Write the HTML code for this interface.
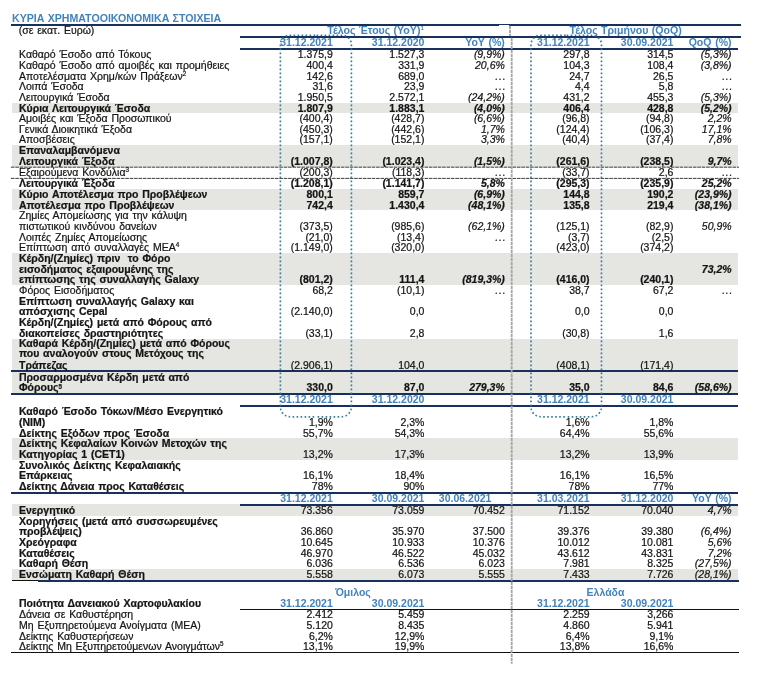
<!DOCTYPE html>
<html lang="el"><head><meta charset="utf-8"><title>Κύρια Χρηματοοικονομικά Στοιχεία</title>
<style>
html,body{margin:0;padding:0;background:#fff}
body{width:776px;height:692px;position:relative;overflow:hidden;font-family:"Liberation Sans",sans-serif;font-size:10.5px;color:#141414}
#w{position:absolute;left:0;top:0;width:776px;height:692px;will-change:transform}
.t{position:absolute;white-space:nowrap;line-height:12px;height:12px;-webkit-text-stroke:0.22px}
.r{text-align:right}
.c{text-align:center}
.b{font-weight:bold}
.i{font-style:italic}
.bl{color:#4283bc;-webkit-text-stroke:0}
.a{position:absolute}
sup{font-size:6.3px;line-height:0;vertical-align:baseline;position:relative;top:-3.7px}
.b sup{top:-2.3px}
.ov{position:absolute;left:0;top:0}
.ti{font-size:10.62px}
.hh{font-size:10.6px}
.el{letter-spacing:0.73px;margin-right:-1.5px}
sup.hs{font-size:6px;top:-3.8px}
</style></head><body><div id="w">
<div class="a" style="left:12.20px;top:103.10px;width:725.40px;height:10.20px;background:#e5e5e1"></div>
<div class="a" style="left:12.20px;top:144.90px;width:725.40px;height:22.30px;background:#e5e5e1"></div>
<div class="a" style="left:12.20px;top:189.10px;width:725.40px;height:21.10px;background:#e5e5e1"></div>
<div class="a" style="left:12.20px;top:252.90px;width:725.40px;height:31.90px;background:#e5e5e1"></div>
<div class="a" style="left:12.20px;top:338.90px;width:725.40px;height:54.60px;background:#e5e5e1"></div>
<div class="a" style="left:12.20px;top:438.20px;width:725.40px;height:21.60px;background:#e5e5e1"></div>
<div class="a" style="left:12.20px;top:504.00px;width:725.40px;height:11.60px;background:#e5e5e1"></div>
<div class="a" style="left:12.20px;top:568.80px;width:725.40px;height:11.70px;background:#e5e5e1"></div>
<div class="a" style="left:10.90px;top:24.00px;width:730.20px;height:1.70px;background:#17305c"></div>
<div class="a" style="left:498.70px;top:24.90px;width:10.70px;height:11.10px;background:#fff"></div>
<div class="a" style="left:240.00px;top:36.00px;width:501.10px;height:1.70px;background:#17305c"></div>
<div class="a" style="left:240.00px;top:48.00px;width:497.80px;height:1.70px;background:#17305c"></div>
<div class="a" style="left:10.90px;top:370.00px;width:726.80px;height:1.80px;background:#17305c"></div>
<div class="a" style="left:10.90px;top:392.85px;width:726.80px;height:1.75px;background:#17305c"></div>
<div class="a" style="left:240.00px;top:405.15px;width:497.70px;height:1.75px;background:#17305c"></div>
<div class="a" style="left:10.90px;top:492.00px;width:726.80px;height:1.70px;background:#17305c"></div>
<div class="a" style="left:240.00px;top:504.20px;width:497.70px;height:1.75px;background:#17305c"></div>
<div class="a" style="left:12.00px;top:579.70px;width:26.00px;height:0.90px;background:#111"></div>
<div class="a" style="left:38.00px;top:579.90px;width:701.00px;height:1.90px;background:#17305c"></div>
<div class="a" style="left:240.00px;top:608.90px;width:499.20px;height:1.00px;background:#111"></div>
<div class="a" style="left:10.90px;top:651.90px;width:728.30px;height:0.90px;background:#111"></div>
<span class="t b bl ti" style="left:12.00px;top:12px;word-spacing:0.3px;">ΚΥΡΙΑ ΧΡΗΜΑΤΟΟΙΚΟΝΟΜΙΚΑ ΣΤΟΙΧΕΙΑ</span>
<span class="t " style="left:18.70px;top:24px;word-spacing:0.9px;">(σε εκατ. Ευρώ)</span>
<span class="t c b bl hh" style="left:275.50px;width:200px;top:24px;word-spacing:0.3px;">Τέλος Έτους (YoY)<sup class="hs">1</sup></span>
<span class="t c b bl hh" style="left:525.60px;width:200px;top:24px;word-spacing:0.3px;">Τέλος Τριμήνου (QoQ)</span>
<span class="t r b bl" style="right:443.20px;top:36px;word-spacing:0.9px;">31.12.2021</span>
<span class="t r b bl" style="right:351.60px;top:36px;word-spacing:0.9px;">31.12.2020</span>
<span class="t r b bl" style="right:271.20px;top:36px;word-spacing:0.9px;">YoY (%)</span>
<span class="t r b bl" style="right:186.40px;top:36px;word-spacing:0.9px;">31.12.2021</span>
<span class="t r b bl" style="right:102.60px;top:36px;word-spacing:0.9px;">30.09.2021</span>
<span class="t r b bl" style="right:44.40px;top:36px;word-spacing:0.9px;">QoQ (%)</span>
<span class="t " style="left:19.00px;top:48px;word-spacing:0.9px;">Καθαρό Έσοδο από Τόκους</span>
<span class="t r " style="right:443.20px;top:48px;">1.375,9</span>
<span class="t r " style="right:351.60px;top:48px;">1.527,3</span>
<span class="t r i" style="right:271.20px;top:48px;">(9,9%)</span>
<span class="t r " style="right:186.40px;top:48px;">297,8</span>
<span class="t r " style="right:102.60px;top:48px;">314,5</span>
<span class="t r i" style="right:44.40px;top:48px;">(5,3%)</span>
<span class="t " style="left:19.00px;top:59px;word-spacing:0.9px;">Καθαρό Έσοδο από αμοιβές και προμήθειες</span>
<span class="t r " style="right:443.20px;top:59px;">400,4</span>
<span class="t r " style="right:351.60px;top:59px;">331,9</span>
<span class="t r i" style="right:271.20px;top:59px;">20,6%</span>
<span class="t r " style="right:186.40px;top:59px;">104,3</span>
<span class="t r " style="right:102.60px;top:59px;">108,4</span>
<span class="t r i" style="right:44.40px;top:59px;">(3,8%)</span>
<span class="t " style="left:19.00px;top:70px;word-spacing:0.9px;">Αποτελέσματα Χρημ/κών Πράξεων<sup>2</sup></span>
<span class="t r " style="right:443.20px;top:70px;">142,6</span>
<span class="t r " style="right:351.60px;top:70px;">689,0</span>
<span class="t r i el" style="right:271.20px;top:70px;">...</span>
<span class="t r " style="right:186.40px;top:70px;">24,7</span>
<span class="t r " style="right:102.60px;top:70px;">26,5</span>
<span class="t r i el" style="right:44.40px;top:70px;">...</span>
<span class="t " style="left:19.00px;top:80px;word-spacing:0.9px;">Λοιπά Έσοδα</span>
<span class="t r " style="right:443.20px;top:80px;">31,6</span>
<span class="t r " style="right:351.60px;top:80px;">23,9</span>
<span class="t r i el" style="right:271.20px;top:80px;">...</span>
<span class="t r " style="right:186.40px;top:80px;">4,4</span>
<span class="t r " style="right:102.60px;top:80px;">5,8</span>
<span class="t r i el" style="right:44.40px;top:80px;">...</span>
<span class="t " style="left:19.00px;top:91px;word-spacing:0.9px;">Λειτουργικά Έσοδα</span>
<span class="t r " style="right:443.20px;top:91px;">1.950,5</span>
<span class="t r " style="right:351.60px;top:91px;">2.572,1</span>
<span class="t r i" style="right:271.20px;top:91px;">(24,2%)</span>
<span class="t r " style="right:186.40px;top:91px;">431,2</span>
<span class="t r " style="right:102.60px;top:91px;">455,3</span>
<span class="t r i" style="right:44.40px;top:91px;">(5,3%)</span>
<span class="t b" style="left:19.00px;top:102px;word-spacing:0.9px;">Κύρια Λειτουργικά Έσοδα</span>
<span class="t r b" style="right:443.20px;top:102px;">1.807,9</span>
<span class="t r b" style="right:351.60px;top:102px;">1.883,1</span>
<span class="t r b i" style="right:271.20px;top:102px;">(4,0%)</span>
<span class="t r b" style="right:186.40px;top:102px;">406,4</span>
<span class="t r b" style="right:102.60px;top:102px;">428,8</span>
<span class="t r b i" style="right:44.40px;top:102px;">(5,2%)</span>
<span class="t " style="left:19.00px;top:112px;word-spacing:0.9px;">Αμοιβές και Έξοδα Προσωπικού</span>
<span class="t r " style="right:443.20px;top:112px;">(400,4)</span>
<span class="t r " style="right:351.60px;top:112px;">(428,7)</span>
<span class="t r i" style="right:271.20px;top:112px;">(6,6%)</span>
<span class="t r " style="right:186.40px;top:112px;">(96,8)</span>
<span class="t r " style="right:102.60px;top:112px;">(94,8)</span>
<span class="t r i" style="right:44.40px;top:112px;">2,2%</span>
<span class="t " style="left:19.00px;top:123px;word-spacing:0.9px;">Γενικά Διοικητικά Έξοδα</span>
<span class="t r " style="right:443.20px;top:123px;">(450,3)</span>
<span class="t r " style="right:351.60px;top:123px;">(442,6)</span>
<span class="t r i" style="right:271.20px;top:123px;">1,7%</span>
<span class="t r " style="right:186.40px;top:123px;">(124,4)</span>
<span class="t r " style="right:102.60px;top:123px;">(106,3)</span>
<span class="t r i" style="right:44.40px;top:123px;">17,1%</span>
<span class="t " style="left:19.00px;top:133px;word-spacing:0.9px;">Αποσβέσεις</span>
<span class="t r " style="right:443.20px;top:133px;">(157,1)</span>
<span class="t r " style="right:351.60px;top:133px;">(152,1)</span>
<span class="t r i" style="right:271.20px;top:133px;">3,3%</span>
<span class="t r " style="right:186.40px;top:133px;">(40,4)</span>
<span class="t r " style="right:102.60px;top:133px;">(37,4)</span>
<span class="t r i" style="right:44.40px;top:133px;">7,8%</span>
<span class="t b" style="left:19.00px;top:144px;word-spacing:0.9px;">Επαναλαμβανόμενα</span>
<span class="t b" style="left:19.00px;top:155px;word-spacing:0.9px;">Λειτουργικά Έξοδα</span>
<span class="t r b" style="right:443.20px;top:155px;">(1.007,8)</span>
<span class="t r b" style="right:351.60px;top:155px;">(1.023,4)</span>
<span class="t r b i" style="right:271.20px;top:155px;">(1,5%)</span>
<span class="t r b" style="right:186.40px;top:155px;">(261,6)</span>
<span class="t r b" style="right:102.60px;top:155px;">(238,5)</span>
<span class="t r b i" style="right:44.40px;top:155px;">9,7%</span>
<span class="t " style="left:19.00px;top:166px;word-spacing:0.9px;">Εξαιρούμενα Κονδύλια<sup>3</sup></span>
<span class="t r " style="right:443.20px;top:166px;">(200,3)</span>
<span class="t r " style="right:351.60px;top:166px;">(118,3)</span>
<span class="t r i el" style="right:271.20px;top:166px;">...</span>
<span class="t r " style="right:186.40px;top:166px;">(33,7)</span>
<span class="t r " style="right:102.60px;top:166px;">2,6</span>
<span class="t r i el" style="right:44.40px;top:166px;">...</span>
<span class="t b" style="left:19.00px;top:177px;word-spacing:0.9px;">Λειτουργικά Έξοδα</span>
<span class="t r b" style="right:443.20px;top:177px;">(1.208,1)</span>
<span class="t r b" style="right:351.60px;top:177px;">(1.141,7)</span>
<span class="t r b i" style="right:271.20px;top:177px;">5,8%</span>
<span class="t r b" style="right:186.40px;top:177px;">(295,3)</span>
<span class="t r b" style="right:102.60px;top:177px;">(235,9)</span>
<span class="t r b i" style="right:44.40px;top:177px;">25,2%</span>
<span class="t b" style="left:19.00px;top:188px;word-spacing:0.9px;">Κύριο Αποτέλεσμα προ Προβλέψεων</span>
<span class="t r b" style="right:443.20px;top:188px;">800,1</span>
<span class="t r b" style="right:351.60px;top:188px;">859,7</span>
<span class="t r b i" style="right:271.20px;top:188px;">(6,9%)</span>
<span class="t r b" style="right:186.40px;top:188px;">144,8</span>
<span class="t r b" style="right:102.60px;top:188px;">190,2</span>
<span class="t r b i" style="right:44.40px;top:188px;">(23,9%)</span>
<span class="t b" style="left:19.00px;top:199px;word-spacing:0.9px;">Αποτέλεσμα προ Προβλέψεων</span>
<span class="t r b" style="right:443.20px;top:199px;">742,4</span>
<span class="t r b" style="right:351.60px;top:199px;">1.430,4</span>
<span class="t r b i" style="right:271.20px;top:199px;">(48,1%)</span>
<span class="t r b" style="right:186.40px;top:199px;">135,8</span>
<span class="t r b" style="right:102.60px;top:199px;">219,4</span>
<span class="t r b i" style="right:44.40px;top:199px;">(38,1%)</span>
<span class="t " style="left:19.00px;top:209px;word-spacing:0.9px;">Ζημίες Απομείωσης για την κάλυψη</span>
<span class="t " style="left:19.00px;top:220px;word-spacing:0.9px;">πιστωτικού κινδύνου δανείων</span>
<span class="t r " style="right:443.20px;top:220px;">(373,5)</span>
<span class="t r " style="right:351.60px;top:220px;">(985,6)</span>
<span class="t r i" style="right:271.20px;top:220px;">(62,1%)</span>
<span class="t r " style="right:186.40px;top:220px;">(125,1)</span>
<span class="t r " style="right:102.60px;top:220px;">(82,9)</span>
<span class="t r i" style="right:44.40px;top:220px;">50,9%</span>
<span class="t " style="left:19.00px;top:231px;word-spacing:0.9px;">Λοιπές Ζημίες Απομείωσης</span>
<span class="t r " style="right:443.20px;top:231px;">(21,0)</span>
<span class="t r " style="right:351.60px;top:231px;">(13,4)</span>
<span class="t r i el" style="right:271.20px;top:231px;">...</span>
<span class="t r " style="right:186.40px;top:231px;">(3,7)</span>
<span class="t r " style="right:102.60px;top:231px;">(2,5)</span>
<span class="t " style="left:19.00px;top:241px;word-spacing:0.9px;">Επίπτωση από συναλλαγές ΜΕΑ<sup>4</sup></span>
<span class="t r " style="right:443.20px;top:241px;">(1.149,0)</span>
<span class="t r " style="right:351.60px;top:241px;">(320,0)</span>
<span class="t r " style="right:186.40px;top:241px;">(423,0)</span>
<span class="t r " style="right:102.60px;top:241px;">(374,2)</span>
<span class="t b" style="left:19.00px;top:252px;word-spacing:0.9px;">Κέρδη/(Ζημίες) πριν&nbsp; το Φόρο</span>
<span class="t b" style="left:19.00px;top:263px;word-spacing:0.9px;">εισοδήματος εξαιρουμένης της</span>
<span class="t r b i" style="right:44.40px;top:263px;">73,2%</span>
<span class="t b" style="left:19.00px;top:273px;word-spacing:0.9px;">επίπτωσης της συναλλαγής Galaxy</span>
<span class="t r b" style="right:443.20px;top:273px;">(801,2)</span>
<span class="t r b" style="right:351.60px;top:273px;">111,4</span>
<span class="t r b i" style="right:271.20px;top:273px;">(819,3%)</span>
<span class="t r b" style="right:186.40px;top:273px;">(416,0)</span>
<span class="t r b" style="right:102.60px;top:273px;">(240,1)</span>
<span class="t " style="left:19.00px;top:284px;word-spacing:0.9px;">Φόρος Εισοδήματος</span>
<span class="t r " style="right:443.20px;top:284px;">68,2</span>
<span class="t r " style="right:351.60px;top:284px;">(10,1)</span>
<span class="t r i el" style="right:271.20px;top:284px;">...</span>
<span class="t r " style="right:186.40px;top:284px;">38,7</span>
<span class="t r " style="right:102.60px;top:284px;">67,2</span>
<span class="t r i el" style="right:44.40px;top:284px;">...</span>
<span class="t b" style="left:19.00px;top:295px;word-spacing:0.9px;">Επίπτωση συναλλαγής Galaxy και</span>
<span class="t b" style="left:19.00px;top:305px;word-spacing:0.9px;">απόσχισης Cepal</span>
<span class="t r " style="right:443.20px;top:305px;">(2.140,0)</span>
<span class="t r " style="right:351.60px;top:305px;">0,0</span>
<span class="t r " style="right:186.40px;top:305px;">0,0</span>
<span class="t r " style="right:102.60px;top:305px;">0,0</span>
<span class="t b" style="left:19.00px;top:316px;word-spacing:0.9px;">Κέρδη/(Ζημίες) μετά από Φόρους από</span>
<span class="t b" style="left:19.00px;top:327px;word-spacing:0.9px;">διακοπείσες δραστηριότητες</span>
<span class="t r " style="right:443.20px;top:327px;">(33,1)</span>
<span class="t r " style="right:351.60px;top:327px;">2,8</span>
<span class="t r " style="right:186.40px;top:327px;">(30,8)</span>
<span class="t r " style="right:102.60px;top:327px;">1,6</span>
<span class="t b" style="left:19.00px;top:337px;word-spacing:0.9px;">Καθαρά Κέρδη/(Ζημίες) μετά από Φόρους</span>
<span class="t b" style="left:19.00px;top:347px;word-spacing:0.9px;">που αναλογούν στους Μετόχους της</span>
<span class="t b" style="left:19.00px;top:359px;word-spacing:0.9px;">Τράπεζας</span>
<span class="t r " style="right:443.20px;top:359px;">(2.906,1)</span>
<span class="t r " style="right:351.60px;top:359px;">104,0</span>
<span class="t r " style="right:186.40px;top:359px;">(408,1)</span>
<span class="t r " style="right:102.60px;top:359px;">(171,4)</span>
<span class="t b" style="left:19.00px;top:371px;word-spacing:0.9px;">Προσαρμοσμένα Κέρδη μετά από</span>
<span class="t b" style="left:19.00px;top:381px;word-spacing:0.9px;">Φόρους<sup>5</sup></span>
<span class="t r b" style="right:443.20px;top:381px;">330,0</span>
<span class="t r b" style="right:351.60px;top:381px;">87,0</span>
<span class="t r b i" style="right:271.20px;top:381px;">279,3%</span>
<span class="t r b" style="right:186.40px;top:381px;">35,0</span>
<span class="t r b" style="right:102.60px;top:381px;">84,6</span>
<span class="t r b i" style="right:44.40px;top:381px;">(58,6%)</span>
<span class="t r b bl" style="right:443.20px;top:393px;">31.12.2021</span>
<span class="t r b bl" style="right:351.60px;top:393px;">31.12.2020</span>
<span class="t r b bl" style="right:186.40px;top:393px;">31.12.2021</span>
<span class="t r b bl" style="right:102.60px;top:393px;">30.09.2021</span>
<span class="t b" style="left:19.00px;top:405px;word-spacing:0.9px;">Καθαρό Έσοδο Τόκων/Μέσο Ενεργητικό</span>
<span class="t b" style="left:19.00px;top:416px;word-spacing:0.9px;">(NIM)</span>
<span class="t r " style="right:443.20px;top:416px;">1,9%</span>
<span class="t r " style="right:351.60px;top:416px;">2,3%</span>
<span class="t r " style="right:186.40px;top:416px;">1,6%</span>
<span class="t r " style="right:102.60px;top:416px;">1,8%</span>
<span class="t b" style="left:19.00px;top:427px;word-spacing:0.9px;">Δείκτης Εξόδων προς Έσοδα</span>
<span class="t r " style="right:443.20px;top:427px;">55,7%</span>
<span class="t r " style="right:351.60px;top:427px;">54,3%</span>
<span class="t r " style="right:186.40px;top:427px;">64,4%</span>
<span class="t r " style="right:102.60px;top:427px;">55,6%</span>
<span class="t b" style="left:19.00px;top:437px;word-spacing:0.9px;">Δείκτης Κεφαλαίων Κοινών Μετοχών της</span>
<span class="t b" style="left:19.00px;top:448px;word-spacing:0.9px;">Κατηγορίας 1 (CET1)</span>
<span class="t r " style="right:443.20px;top:448px;">13,2%</span>
<span class="t r " style="right:351.60px;top:448px;">17,3%</span>
<span class="t r " style="right:186.40px;top:448px;">13,2%</span>
<span class="t r " style="right:102.60px;top:448px;">13,9%</span>
<span class="t b" style="left:19.00px;top:459px;word-spacing:0.9px;">Συνολικός Δείκτης Κεφαλαιακής</span>
<span class="t b" style="left:19.00px;top:469px;word-spacing:0.9px;">Επάρκειας</span>
<span class="t r " style="right:443.20px;top:469px;">16,1%</span>
<span class="t r " style="right:351.60px;top:469px;">18,4%</span>
<span class="t r " style="right:186.40px;top:469px;">16,1%</span>
<span class="t r " style="right:102.60px;top:469px;">16,5%</span>
<span class="t b" style="left:19.00px;top:480px;word-spacing:0.9px;">Δείκτης Δάνεια προς Καταθέσεις</span>
<span class="t r " style="right:443.20px;top:480px;">78%</span>
<span class="t r " style="right:351.60px;top:480px;">90%</span>
<span class="t r " style="right:186.40px;top:480px;">78%</span>
<span class="t r " style="right:102.60px;top:480px;">77%</span>
<span class="t r b bl" style="right:443.20px;top:492px;word-spacing:0.9px;">31.12.2021</span>
<span class="t r b bl" style="right:351.60px;top:492px;word-spacing:0.9px;">30.09.2021</span>
<span class="t r b bl" style="right:284.60px;top:492px;word-spacing:0.9px;">30.06.2021</span>
<span class="t r b bl" style="right:186.40px;top:492px;word-spacing:0.9px;">31.03.2021</span>
<span class="t r b bl" style="right:102.60px;top:492px;word-spacing:0.9px;">31.12.2020</span>
<span class="t r b bl" style="right:44.40px;top:492px;word-spacing:0.9px;">YoY (%)</span>
<span class="t b" style="left:19.00px;top:504px;word-spacing:0.9px;">Ενεργητικό</span>
<span class="t r " style="right:443.20px;top:504px;">73.356</span>
<span class="t r " style="right:351.60px;top:504px;">73.059</span>
<span class="t r " style="right:271.20px;top:504px;">70.452</span>
<span class="t r " style="right:186.40px;top:504px;">71.152</span>
<span class="t r " style="right:102.60px;top:504px;">70.040</span>
<span class="t r i" style="right:44.40px;top:504px;">4,7%</span>
<span class="t b" style="left:19.00px;top:515px;word-spacing:0.9px;">Χορηγήσεις (μετά από συσσωρευμένες</span>
<span class="t b" style="left:19.00px;top:525px;word-spacing:0.9px;">προβλέψεις)</span>
<span class="t r " style="right:443.20px;top:525px;">36.860</span>
<span class="t r " style="right:351.60px;top:525px;">35.970</span>
<span class="t r " style="right:271.20px;top:525px;">37.500</span>
<span class="t r " style="right:186.40px;top:525px;">39.376</span>
<span class="t r " style="right:102.60px;top:525px;">39.380</span>
<span class="t r i" style="right:44.40px;top:525px;">(6,4%)</span>
<span class="t b" style="left:19.00px;top:536px;word-spacing:0.9px;">Χρεόγραφα</span>
<span class="t r " style="right:443.20px;top:536px;">10.645</span>
<span class="t r " style="right:351.60px;top:536px;">10.933</span>
<span class="t r " style="right:271.20px;top:536px;">10.376</span>
<span class="t r " style="right:186.40px;top:536px;">10.012</span>
<span class="t r " style="right:102.60px;top:536px;">10.081</span>
<span class="t r i" style="right:44.40px;top:536px;">5,6%</span>
<span class="t b" style="left:19.00px;top:547px;word-spacing:0.9px;">Καταθέσεις</span>
<span class="t r " style="right:443.20px;top:547px;">46.970</span>
<span class="t r " style="right:351.60px;top:547px;">46.522</span>
<span class="t r " style="right:271.20px;top:547px;">45.032</span>
<span class="t r " style="right:186.40px;top:547px;">43.612</span>
<span class="t r " style="right:102.60px;top:547px;">43.831</span>
<span class="t r i" style="right:44.40px;top:547px;">7,2%</span>
<span class="t b" style="left:19.00px;top:557px;word-spacing:0.9px;">Καθαρή Θέση</span>
<span class="t r " style="right:443.20px;top:557px;">6.036</span>
<span class="t r " style="right:351.60px;top:557px;">6.536</span>
<span class="t r " style="right:271.20px;top:557px;">6.023</span>
<span class="t r " style="right:186.40px;top:557px;">7.981</span>
<span class="t r " style="right:102.60px;top:557px;">8.325</span>
<span class="t r i" style="right:44.40px;top:557px;">(27,5%)</span>
<span class="t b" style="left:19.00px;top:568px;word-spacing:0.9px;">Ενσώματη Καθαρή Θέση</span>
<span class="t r " style="right:443.20px;top:568px;">5.558</span>
<span class="t r " style="right:351.60px;top:568px;">6.073</span>
<span class="t r " style="right:271.20px;top:568px;">5.555</span>
<span class="t r " style="right:186.40px;top:568px;">7.433</span>
<span class="t r " style="right:102.60px;top:568px;">7.726</span>
<span class="t r i" style="right:44.40px;top:568px;">(28,1%)</span>
<span class="t c b bl" style="left:253.00px;width:200px;top:586px;">Όμιλος</span>
<span class="t c b bl" style="left:505.50px;width:200px;top:586px;">Ελλάδα</span>
<span class="t b" style="left:19.00px;top:597px;word-spacing:0.9px;">Ποιότητα Δανειακού Χαρτοφυλακίου</span>
<span class="t r b bl" style="right:443.20px;top:597px;">31.12.2021</span>
<span class="t r b bl" style="right:351.60px;top:597px;">30.09.2021</span>
<span class="t r b bl" style="right:186.40px;top:597px;">31.12.2021</span>
<span class="t r b bl" style="right:102.60px;top:597px;">30.09.2021</span>
<span class="t " style="left:19.00px;top:608px;word-spacing:0.9px;">Δάνεια σε Καθυστέρηση</span>
<span class="t r " style="right:443.20px;top:608px;">2.412</span>
<span class="t r " style="right:351.60px;top:608px;">5.459</span>
<span class="t r " style="right:186.40px;top:608px;">2.259</span>
<span class="t r " style="right:102.60px;top:608px;">3,266</span>
<span class="t " style="left:19.00px;top:619px;word-spacing:0.9px;">Μη Εξυπηρετούμενα Ανοίγματα (ΜΕΑ)</span>
<span class="t r " style="right:443.20px;top:619px;">5.120</span>
<span class="t r " style="right:351.60px;top:619px;">8.435</span>
<span class="t r " style="right:186.40px;top:619px;">4.860</span>
<span class="t r " style="right:102.60px;top:619px;">5.941</span>
<span class="t " style="left:19.00px;top:630px;word-spacing:0.9px;">Δείκτης Καθυστερήσεων</span>
<span class="t r " style="right:443.20px;top:630px;">6,2%</span>
<span class="t r " style="right:351.60px;top:630px;">12,9%</span>
<span class="t r " style="right:186.40px;top:630px;">6,4%</span>
<span class="t r " style="right:102.60px;top:630px;">9,1%</span>
<span class="t " style="left:19.00px;top:640px;word-spacing:0.9px;">Δείκτης Μη Εξυπηρετούμενων Ανοιγμάτων<sup>5</sup></span>
<span class="t r " style="right:443.20px;top:640px;">13,1%</span>
<span class="t r " style="right:351.60px;top:640px;">19,9%</span>
<span class="t r " style="right:186.40px;top:640px;">13,8%</span>
<span class="t r " style="right:102.60px;top:640px;">16,6%</span>
<svg class="ov" width="776" height="692" viewBox="0 0 776 692"><line x1="10.9" y1="167.2" x2="739" y2="167.2" stroke="#262626" stroke-width="0.9" stroke-dasharray="3.6 0.8"/><line x1="10.9" y1="178.4" x2="739" y2="178.4" stroke="#262626" stroke-width="0.9" stroke-dasharray="3.6 0.8"/><line x1="510.0" y1="25.7" x2="510.0" y2="36" stroke="#a4a4a4" stroke-width="1.8" stroke-dasharray="3.2 0.8"/><line x1="511.7" y1="37.7" x2="511.7" y2="663.8" stroke="#a4a4a4" stroke-width="1.8" stroke-dasharray="3.2 0.8"/><path d="M315.9 35.2 H289.9 A9.5 9.5 0 0 0 280.4 44.7 V406.8 A10.0 10.0 0 0 0 290.4 416.8 H315.9" fill="none" stroke="#317d9b" stroke-width="1.65" stroke-dasharray="1.6 2.4" stroke-dashoffset="3.28"/><path d="M315.9 35.2 H341.9 A9.5 9.5 0 0 1 351.4 44.7 V406.8 A10.0 10.0 0 0 1 341.4 416.8 H315.9" fill="none" stroke="#317d9b" stroke-width="1.65" stroke-dasharray="1.6 2.4" stroke-dashoffset="3.28"/><path d="M566.25 35.2 H540.5 A9.5 9.5 0 0 0 531.0 44.7 V406.8 A10.0 10.0 0 0 0 541.0 416.8 H566.25" fill="none" stroke="#317d9b" stroke-width="1.65" stroke-dasharray="1.6 2.4" stroke-dashoffset="3.53"/><path d="M566.25 35.2 H592.0 A9.5 9.5 0 0 1 601.5 44.7 V406.8 A10.0 10.0 0 0 1 591.5 416.8 H566.25" fill="none" stroke="#317d9b" stroke-width="1.65" stroke-dasharray="1.6 2.4" stroke-dashoffset="3.53"/></svg>
</div></body></html>
